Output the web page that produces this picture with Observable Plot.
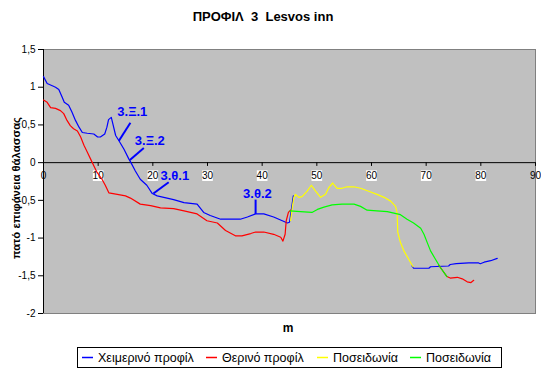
<!DOCTYPE html>
<html>
<head>
<meta charset="utf-8">
<script src="https://cdn.jsdelivr.net/npm/d3@7"></script>
<script src="https://cdn.jsdelivr.net/npm/@observablehq/plot@0.6"></script>
<style>
  body { margin: 0; background: white; }
  svg text { font-family: "Liberation Sans", Arial, sans-serif; }
</style>
</head>
<body>
<div id="chart"></div>
<script>
const title = "ΠΡΟΦΙΛ  3  Lesvos inn";
const yLabel = "πατό επιφάνεια θάλασσας";
const xLabel = "m";
const seriesNames = ["Χειμερινό προφίλ", "Θερινό προφίλ", "Ποσειδωνία", "Ποσειδωνία"];
const seriesColors = ["#0000ff", "#ff0000", "#ffff00", "#00ff00"];
const xTicks = [0, 10, 20, 30, 40, 50, 60, 70, 80, 90];
const yTicks = [-2, -1.5, -1, -0.5, 0, 0.5, 1, 1.5];

// Χειμερινό προφίλ (null = hidden under the Ποσειδωνία line)
const blueX = [0,0.67,1.6,2.2,2.8,3.4,3.8,4.6,5.2,5.85,6.5,7.1,8.0,9.2,9.9,10.4,11.2,11.6,11.9,12.4,12.7,13.2,13.8,14.7,15.6,16.0,16.8,17.7,18.9,19.9,20.8,22.0,23.8,25.7,28.1,29.3,30.5,32.4,34.2,36.0,37.3,38.8,40.3,42.1,44.0,44.6,45.0,45.7,null,67.4,67.7,70.5,70.8,74.1,74.4,75.5,77.8,79.6,79.9,80.6,81.8,83.0];
const blueY = [1.14,1.05,1.02,1.0,0.97,0.87,0.80,0.76,0.67,0.56,0.47,0.40,0.39,0.38,0.34,0.34,0.38,0.47,0.57,0.60,0.51,0.36,0.29,0.18,0.05,0.0,-0.11,-0.22,-0.30,-0.41,-0.44,-0.46,-0.49,-0.53,-0.55,-0.66,-0.70,-0.75,-0.75,-0.75,-0.72,-0.68,-0.68,-0.72,-0.78,-0.80,-0.79,-0.44,null,-1.37,-1.40,-1.40,-1.38,-1.37,-1.35,-1.34,-1.33,-1.33,-1.34,-1.32,-1.30,-1.27];

// Θερινό προφίλ
const redX = [0,0.67,1.3,2.2,3.1,3.7,4.3,4.9,5.5,6.2,6.8,7.4,8.0,8.6,9.2,9.8,10.7,11.3,11.95,13.5,15.0,15.9,17.7,19.6,21.4,23.8,25.7,28.1,29.9,31.8,33.3,35.1,36.3,37.9,38.8,40.3,42.1,43.4,43.8,44.2,44.4,44.8,45.2,null,72.3,73.0,73.8,74.4,75.7,76.6,77.5,78.2,78.7];
const redY = [0.83,0.80,0.73,0.72,0.69,0.65,0.56,0.49,0.45,0.42,0.34,0.23,0.14,0.05,-0.04,-0.13,-0.22,-0.30,-0.40,-0.42,-0.44,-0.47,-0.55,-0.57,-0.60,-0.61,-0.64,-0.68,-0.77,-0.80,-0.90,-0.97,-0.97,-0.94,-0.92,-0.92,-0.95,-0.99,-1.04,-0.95,-0.77,-0.66,-0.63,null,-1.36,-1.43,-1.51,-1.53,-1.52,-1.54,-1.58,-1.59,-1.56];

// Ποσειδωνία (κίτρινο)
const yellowX = [45.2,45.5,45.8,46.1,46.7,47.3,48.2,49.0,49.7,50.7,51.6,52.2,52.9,53.7,54.6,55.5,56.8,58.0,59.5,61.0,62.3,63.5,64.4,64.7,64.8,65.3,66.0,66.8,67.6];
const yellowY = [-0.77,-0.60,-0.46,-0.42,-0.46,-0.45,-0.38,-0.30,-0.37,-0.46,-0.42,-0.33,-0.27,-0.34,-0.34,-0.32,-0.32,-0.34,-0.38,-0.42,-0.46,-0.51,-0.58,-0.67,-0.92,-1.06,-1.18,-1.28,-1.38];

// Ποσειδωνία (πράσινο)
const greenX = [45.1,47.0,49.1,50.1,51.3,52.8,54.6,56.8,58.0,59.2,61.0,62.9,64.1,65.3,66.5,67.7,69.0,69.6,70.2,70.8,71.7,72.6,73.5,73.8];
const greenY = [-0.64,-0.65,-0.66,-0.62,-0.59,-0.56,-0.55,-0.55,-0.58,-0.63,-0.64,-0.65,-0.67,-0.69,-0.75,-0.80,-0.87,-0.95,-1.06,-1.17,-1.28,-1.39,-1.48,-1.51];

// Annotations
const annoText = ["3.Ξ.1", "3.Ξ.2", "3.θ.1", "3.θ.2"];
const annoX = [13.5, 16.7, 21.4, 36.5];
const annoY = [0.67, 0.285, -0.17, -0.42];
const leadX1 = [15.9, 18.35, 22.9, 38.8];
const leadY1 = [0.53, 0.195, -0.26, -0.49];
const leadX2 = [13.8, 15.8, 20.1, 38.8];
const leadY2 = [0.29, 0.035, -0.41, -0.68];

const toPts = (xs, ys) => xs.map((x, i) => ({x: x, y: ys[i]}));
const series = [toPts(blueX, blueY), toPts(redX, redY), toPts(yellowX, yellowY), toPts(greenX, greenY)];
const annos = annoText.map((t, i) => ({t, x: annoX[i], y: annoY[i], x1: leadX1[i], y1: leadY1[i], x2: leadX2[i], y2: leadY2[i]}));
const boxTicks = xTicks.filter(d => d > 0 && d < 90);

const svg = Plot.plot({
  width: 541,
  height: 371,
  marginLeft: 43,
  marginRight: 6,
  marginTop: 49,
  marginBottom: 58,
  x: {domain: [0, 90], axis: null},
  y: {domain: [-2, 1.5]},
  style: {fontFamily: "Liberation Sans, Arial, sans-serif", background: "white", color: "black"},
  marks: [
    Plot.frame({fill: "#c0c0c0", stroke: "#808080"}),
    Plot.axisY(yTicks, {tickSize: 5, tickPadding: 3, fontSize: 10, label: null, tickFormat: d => String(d).replace(".", ",")}),
    Plot.ruleY([0], {stroke: "black", strokeWidth: 1}),
    Plot.ruleX(xTicks, {x: d => d, y1: 0, y2: -0.05, stroke: "black"}),
    Plot.ruleX([0], {stroke: "black", strokeWidth: 1}),
    Plot.dot(boxTicks, {x: d => d, y: 0, dy: 13, symbol: "square", r: 6, fill: "white", stroke: null}),
    Plot.text(xTicks, {x: d => d, y: 0, dy: 13, text: d => String(d), fontSize: 10, fill: "black"}),
    ...series.map((s, i) => Plot.line(s, {x: "x", y: "y", stroke: seriesColors[i], strokeWidth: 1.2})),
    Plot.link(annos, {x1: "x1", y1: "y1", x2: "x2", y2: "y2", stroke: "#0000ff", strokeWidth: 2}),
    Plot.text(annos, {x: "x", y: "y", text: "t", textAnchor: "start", fill: "#0000ff", fontSize: 13, fontWeight: "bold"})
  ]
});

const s = d3.select(svg);
s.append("text").attr("x", 263).attr("y", 21).attr("text-anchor", "middle")
  .attr("font-size", 13).attr("font-weight", "bold").attr("fill", "black").style("white-space", "pre").text(title);
s.append("text").attr("transform", "translate(20,188) rotate(-90)").attr("text-anchor", "middle")
  .attr("font-size", 11.5).attr("font-weight", "bold").attr("fill", "black")
  .attr("textLength", 142).attr("lengthAdjust", "spacingAndGlyphs").text(yLabel);
s.append("text").attr("x", 288).attr("y", 332).attr("text-anchor", "middle")
  .attr("font-size", 12).attr("font-weight", "bold").attr("fill", "black").text(xLabel);

// legend
const lg = s.append("g");
lg.append("rect").attr("x", 77.5).attr("y", 347.5).attr("width", 424).attr("height", 20)
  .attr("fill", "white").attr("stroke", "black");
const legX = [82, 206, 317, 410];
seriesNames.forEach((n, i) => {
  lg.append("line").attr("x1", legX[i]).attr("x2", legX[i] + 11).attr("y1", 357.5).attr("y2", 357.5)
    .attr("stroke", seriesColors[i]).attr("stroke-width", 1.5);
  lg.append("text").attr("x", legX[i] + 16).attr("y", 362).attr("text-anchor", "start")
    .attr("font-size", 12.5).attr("fill", "black").text(n);
});

document.getElementById("chart").appendChild(svg);
</script>
</body>
</html>
